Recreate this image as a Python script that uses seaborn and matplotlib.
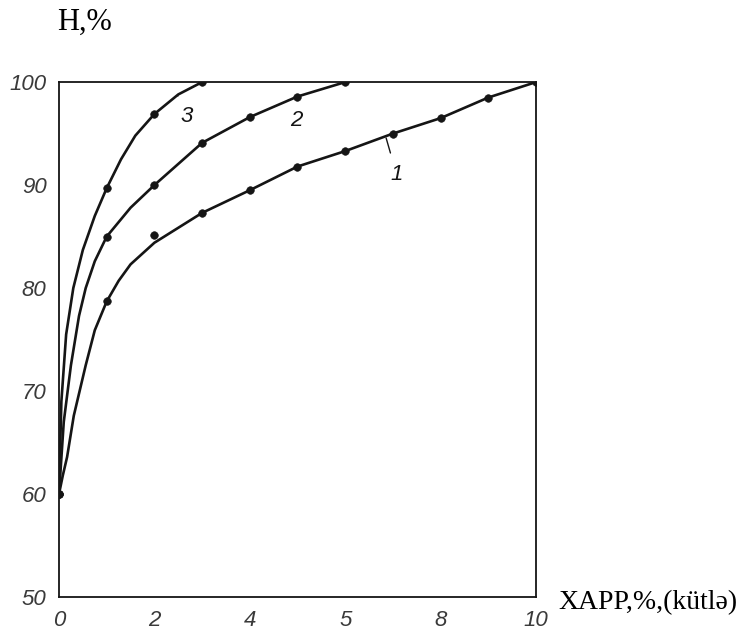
import matplotlib
matplotlib.use("Agg")
import matplotlib.pyplot as plt
import seaborn as sns

# curve 1 (XAPP up to 10 %)
x1_pts = [0, 1, 2, 3, 4, 5, 6, 7, 8, 9, 10]
y1_pts = [60, 78.7, 85.2, 87.3, 89.5, 91.8, 93.3, 95.0, 96.5, 98.5, 100]
x1_line = [0, 0.08, 0.17, 0.31, 0.56, 0.75, 1, 1.25, 1.5, 2, 3, 4, 5, 6, 7, 8, 9, 10]
y1_line = [60, 61.8, 63.6, 67.6, 72.5, 75.9, 78.7, 80.7, 82.3, 84.4, 87.3, 89.5, 91.8, 93.3, 95.0, 96.5, 98.5, 100]

# curve 2
x2_pts = [0, 1, 2, 3, 4, 5, 6]
y2_pts = [60, 85.0, 90.0, 94.1, 96.6, 98.6, 100]
x2_line = [0, 0.1, 0.25, 0.42, 0.56, 0.75, 1, 1.5, 2, 3, 4, 5, 6]
y2_line = [60, 67, 72.5, 77.3, 80, 82.6, 85.0, 87.8, 90.0, 94.1, 96.6, 98.6, 100]

# curve 3
x3_pts = [0, 1, 2, 3]
y3_pts = [60, 89.7, 96.9, 100]
x3_line = [0, 0.05, 0.15, 0.3, 0.5, 0.75, 1, 1.3, 1.6, 2, 2.5, 3]
y3_line = [60, 69, 75.5, 80, 83.7, 87.0, 89.7, 92.5, 94.8, 96.9, 98.8, 100]

x_ticks = list(range(0, 11))
x_tick_labels = ["0", "", "2", "", "4", "", "5", "", "8", "", "10"]
y_ticks = [50, 60, 70, 80, 90, 100]
y_tick_labels = ["50", "60", "70", "80", "90", "100"]

sns.set_theme(style="white")
plt.rcParams["font.family"] = ["Liberation Sans", "DejaVu Sans"]

fig = plt.figure(figsize=(7.43, 6.31), dpi=100)
ax = fig.add_axes([0.0794, 0.0539, 0.642, 0.816])

ink = "#151515"
for xl, yl, xp, yp in [(x1_line, y1_line, x1_pts, y1_pts),
                       (x2_line, y2_line, x2_pts, y2_pts),
                       (x3_line, y3_line, x3_pts, y3_pts)]:
    sns.lineplot(x=xl, y=yl, ax=ax, color=ink, lw=1.9, sort=False)
    sns.scatterplot(x=xp, y=yp, ax=ax, color=ink, s=30, edgecolor=ink, zorder=5)

ax.set_xlim(0, 10)
ax.set_ylim(50, 100)
ax.set_xticks(x_ticks)
ax.set_xticklabels(x_tick_labels)
ax.set_yticks(y_ticks)
ax.set_yticklabels(y_tick_labels)
for sp in ax.spines.values():
    sp.set_color(ink)
    sp.set_linewidth(1.3)
ax.tick_params(axis="x", direction="inout", length=9, width=1.2, color=ink,
               pad=5, labelsize=16, labelcolor="#3a3a3a")
ax.tick_params(axis="y", direction="inout", length=8, width=1.2, color=ink,
               pad=5, labelsize=16, labelcolor="#3a3a3a")
for lab in ax.get_xticklabels() + ax.get_yticklabels():
    lab.set_style("italic")
ax.set_xlabel("")
ax.set_ylabel("")

# curve numbers with small leaders
ax.annotate("3", xy=(2.48, 98.8), xytext=(2.68, 96.7), fontsize=16, style="italic",
            ha="center", va="center", color=ink,
            arrowprops=dict(arrowstyle="-", color=ink, lw=1.0, shrinkA=5, shrinkB=1))
ax.annotate("2", xy=(4.8, 98.4), xytext=(4.98, 96.3), fontsize=16, style="italic",
            ha="center", va="center", color=ink,
            arrowprops=dict(arrowstyle="-", color=ink, lw=1.0, shrinkA=5, shrinkB=1))
ax.annotate("1", xy=(6.85, 94.7), xytext=(7.08, 91.0), fontsize=16, style="italic",
            ha="center", va="center", color=ink,
            arrowprops=dict(arrowstyle="-", color=ink, lw=1.0, shrinkA=6, shrinkB=1))

fig.text(84 / 743, 1 - 22 / 631, "H,%", family="Liberation Serif", fontsize=22,
         ha="center", va="center", color="black")
fig.text(558 / 743, 1 - 603 / 631, "XAPP,%,(kütlə)", family="Liberation Serif",
         fontsize=20, ha="left", va="center", color="black")

fig.savefig("out.png", dpi=100)
